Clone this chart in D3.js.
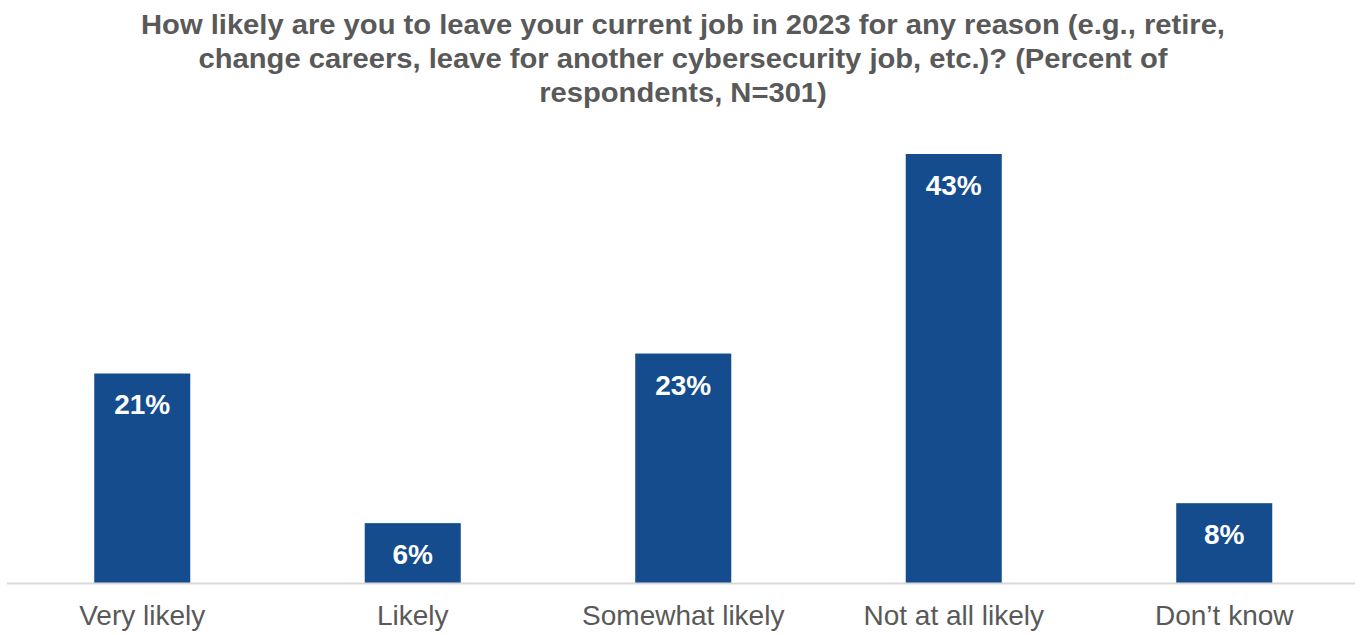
<!DOCTYPE html>
<html>
<head>
<meta charset="utf-8">
<script src="https://cdn.jsdelivr.net/npm/d3@7"></script>
<style>
  html, body { margin: 0; padding: 0; background: #ffffff; }
  svg { display: block; }
  text { font-family: "Liberation Sans", Arial, sans-serif; }
</style>
</head>
<body>
<script>
// Survey answers and their shares (percent of respondents)
const categories = ["Very likely", "Likely", "Somewhat likely", "Not at all likely", "Don\u2019t know"];
const values = [21, 6, 23, 43, 8];
const titleLines = [
  "How likely are you to leave your current job in 2023 for any reason (e.g., retire,",
  "change careers, leave for another cybersecurity job, etc.)? (Percent of",
  "respondents, N=301)"
];

const width = 1360, height = 635;
const baselineY = 583;

const svg = d3.select("body").append("svg")
  .attr("width", width)
  .attr("height", height);

// Title, slightly widened letterforms
svg.append("g")
  .attr("transform", "translate(683,0) scale(1.08,1)")
  .selectAll("text")
  .data(titleLines)
  .join("text")
  .attr("x", 0)
  .attr("y", (d, i) => 34 + i * 34)
  .attr("text-anchor", "middle")
  .attr("font-size", 27)
  .attr("font-weight", "bold")
  .attr("fill", "#595959")
  .text(d => d);

const x = d3.scaleBand()
  .domain(categories)
  .range([7, 1359.5])
  .paddingInner(0.645)
  .paddingOuter(0.3225);

const y = d3.scaleLinear()
  .domain([0, 43])
  .range([baselineY, 154]);

const data = categories.map((c, i) => ({ category: c, value: values[i] }));

// Bars
svg.append("g")
  .selectAll("rect")
  .data(data)
  .join("rect")
  .attr("x", d => x(d.category))
  .attr("y", d => y(d.value))
  .attr("width", x.bandwidth())
  .attr("height", d => y(0) - y(d.value))
  .attr("fill", "#144c8e");

// Value labels inside the top of each bar
svg.append("g")
  .selectAll("text")
  .data(data)
  .join("text")
  .attr("x", d => x(d.category) + x.bandwidth() / 2)
  .attr("y", d => y(d.value) + 41)
  .attr("text-anchor", "middle")
  .attr("font-size", 28)
  .attr("font-weight", "bold")
  .attr("fill", "#ffffff")
  .text(d => d.value + "%");

// Category axis
const axis = svg.append("g")
  .attr("transform", `translate(0,${baselineY})`)
  .call(d3.axisBottom(x).tickSize(0));
axis.select(".domain")
  .attr("d", "M7,0.5H1355")
  .attr("stroke", "#d9d9d9")
  .attr("stroke-width", 2);
axis.selectAll(".tick text")
  .attr("font-family", "\"Liberation Sans\", Arial, sans-serif")
  .attr("font-size", 28)
  .attr("fill", "#595959")
  .attr("dy", 0)
  .attr("y", 42);
</script>
</body>
</html>
